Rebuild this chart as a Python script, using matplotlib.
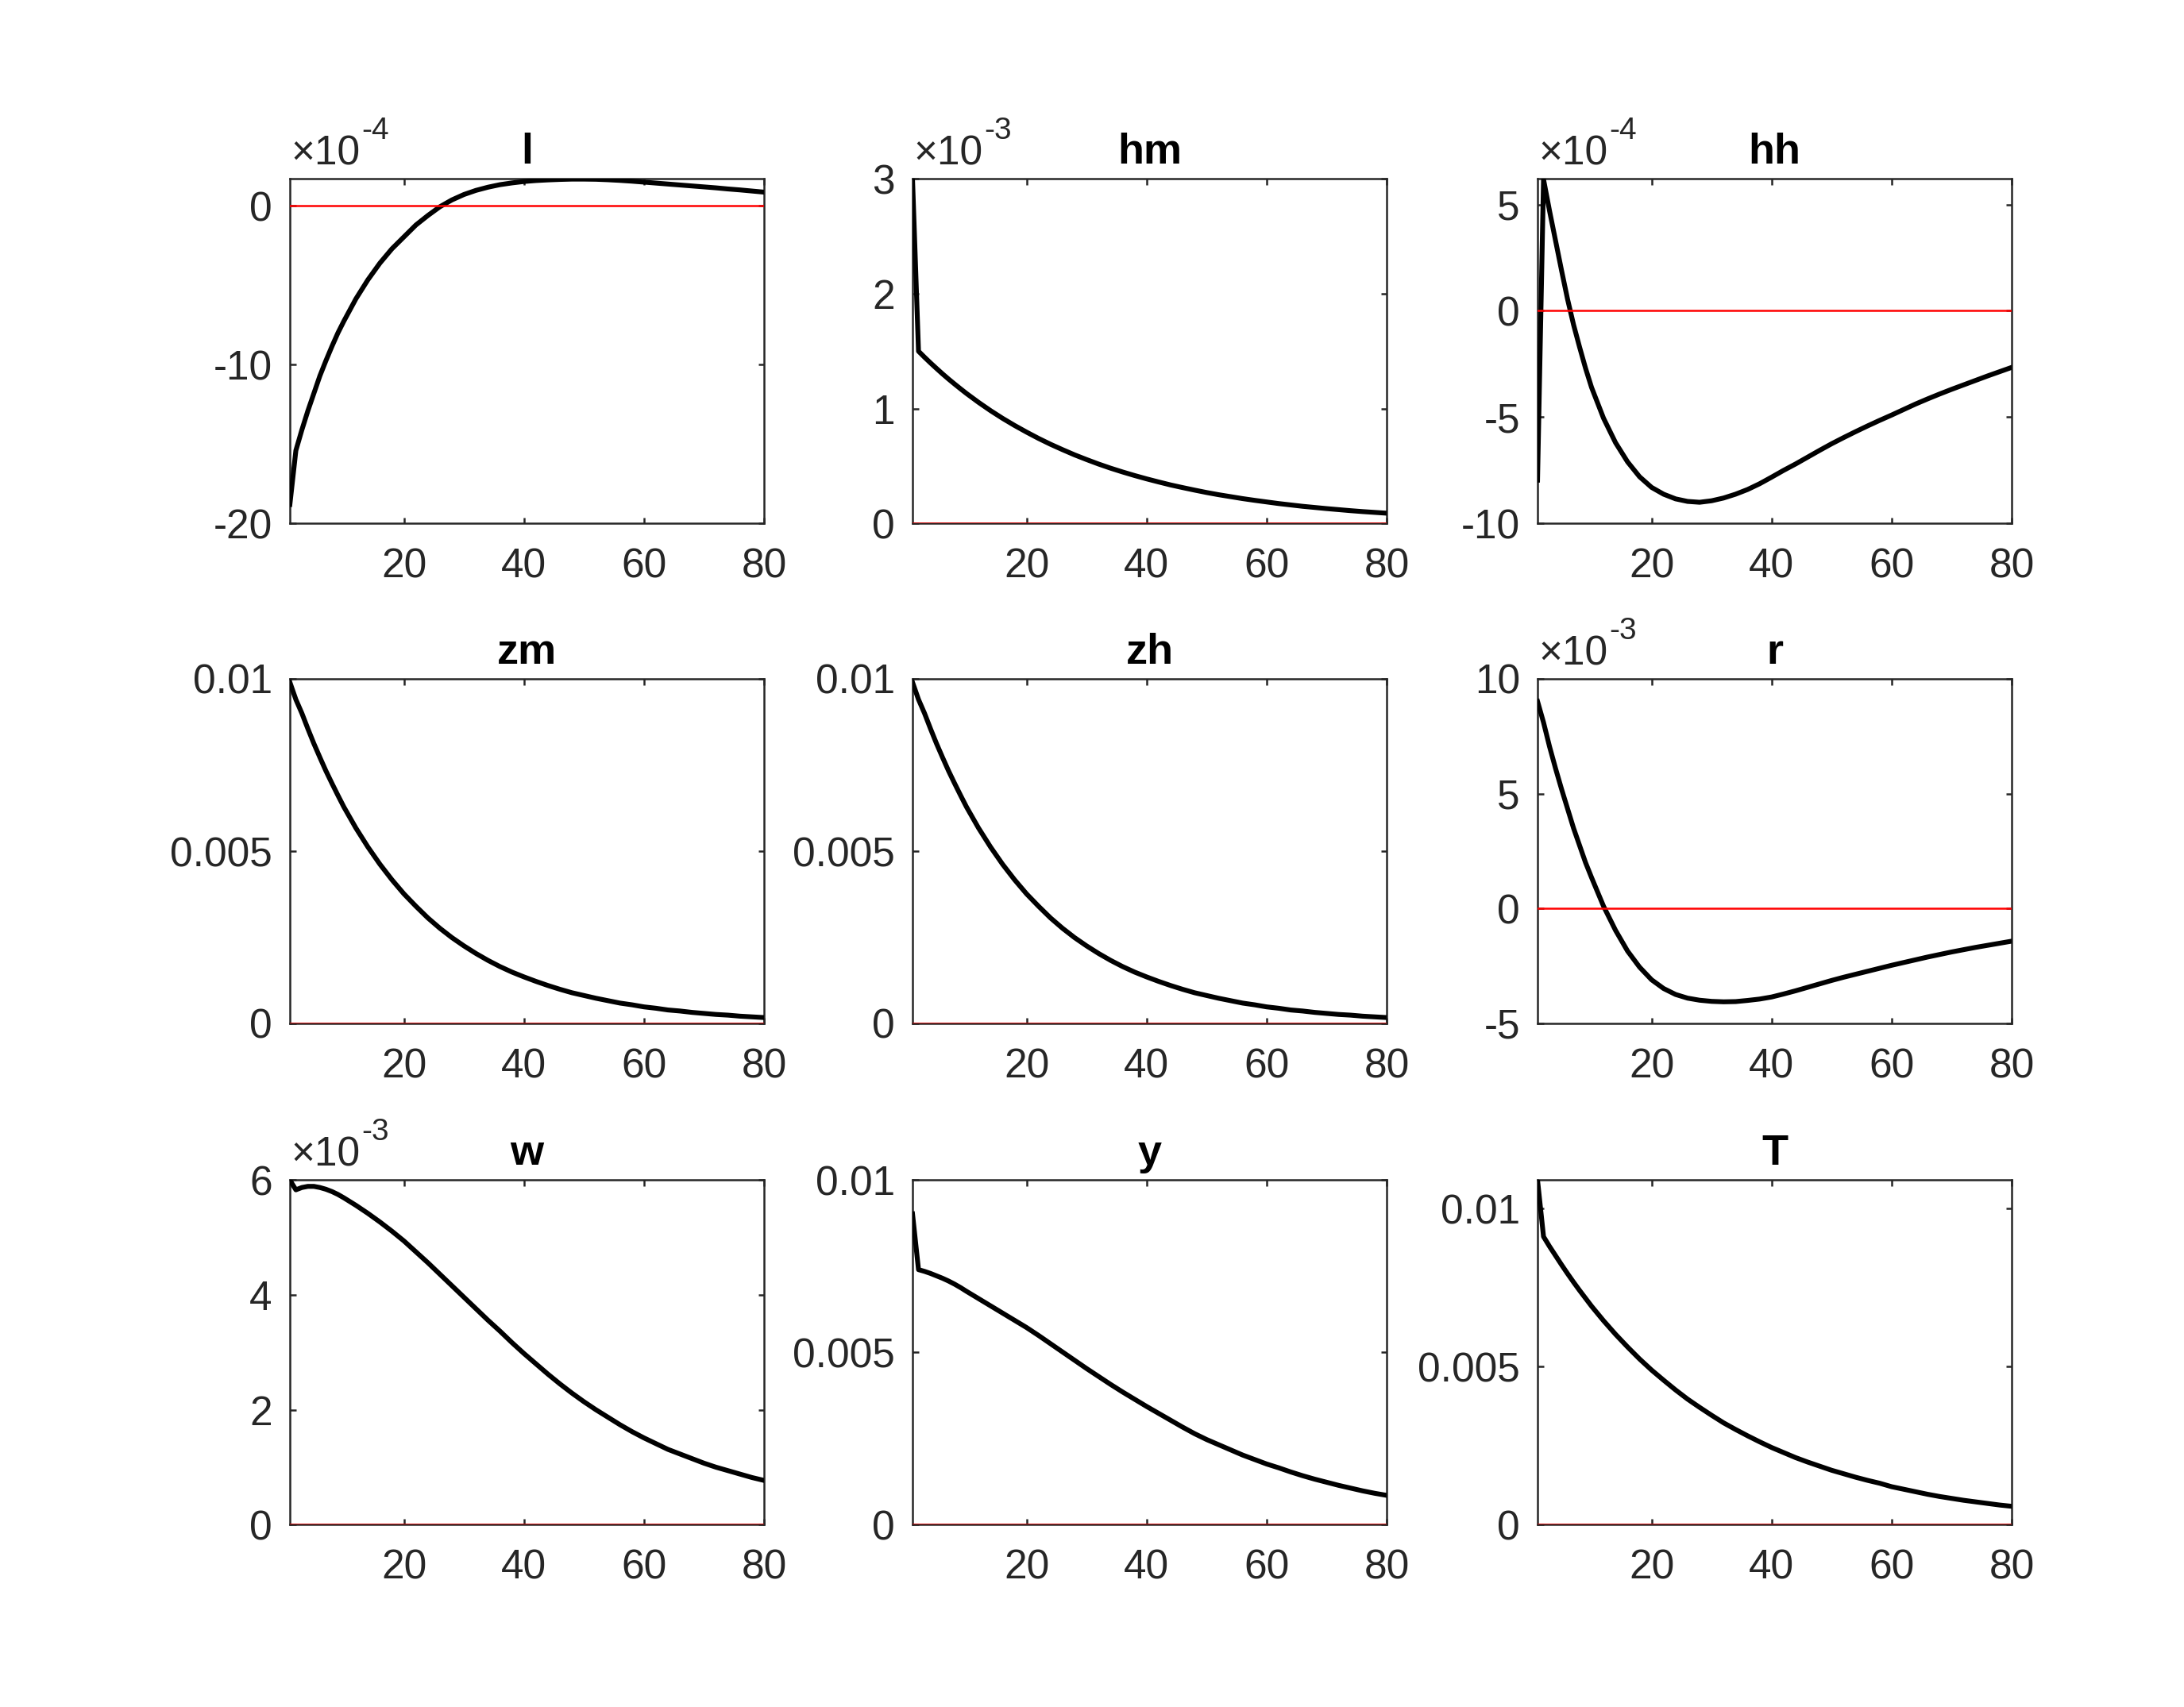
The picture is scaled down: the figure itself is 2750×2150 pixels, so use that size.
import matplotlib
matplotlib.use("Agg")
import matplotlib.pyplot as plt
import numpy as np

plt.rcParams['font.family'] = ['Liberation Sans', 'DejaVu Sans']

periods = [1, 2, 3, 4, 5, 6, 7, 8, 9, 10, 12, 14, 16, 18, 20, 22, 24, 26, 28, 30, 32, 34,
           36, 38, 40, 42, 44, 46, 48, 50, 52, 54, 56, 58, 60, 62, 64, 66, 68, 70, 72, 74,
           76, 78, 80]

titles = ['l', 'hm', 'hh', 'zm', 'zh', 'r', 'w', 'y', 'T']

# values in displayed units (multiply by 10**exponent)
l_vals = [-18.8, -15.4, -14.1, -12.9, -11.8, -10.7, -9.75, -8.85, -8.0, -7.25, -5.85,
          -4.65, -3.6, -2.7, -1.95, -1.2, -0.6, -0.05, 0.38, 0.72, 0.98, 1.18, 1.34,
          1.45, 1.54, 1.6, 1.64, 1.67, 1.69, 1.69, 1.68, 1.65, 1.61, 1.56, 1.5, 1.44,
          1.38, 1.32, 1.26, 1.2, 1.14, 1.07, 1.01, 0.94, 0.87]
hm_vals = [3.0, 1.5, 1.448, 1.398, 1.35, 1.303, 1.258, 1.215, 1.173, 1.132, 1.055, 0.983,
           0.916, 0.854, 0.796, 0.741, 0.69, 0.643, 0.598, 0.557, 0.518, 0.482, 0.449,
           0.418, 0.389, 0.362, 0.336, 0.313, 0.291, 0.27, 0.251, 0.234, 0.217, 0.202,
           0.188, 0.174, 0.162, 0.15, 0.14, 0.13, 0.121, 0.112, 0.104, 0.097, 0.09]
hh_vals = [-7.96, 6.18, 4.7, 3.3, 1.9, 0.55, -0.65, -1.7, -2.7, -3.6, -5.05, -6.2, -7.1,
           -7.8, -8.3, -8.62, -8.84, -8.96, -9.0, -8.93, -8.8, -8.62, -8.4, -8.13, -7.82,
           -7.5, -7.2, -6.88, -6.56, -6.25, -5.96, -5.68, -5.41, -5.15, -4.9, -4.64,
           -4.38, -4.14, -3.91, -3.69, -3.48, -3.27, -3.06, -2.86, -2.66]
zm_vals = [0.0099, 0.0094, 0.009, 0.00855, 0.00812, 0.00772, 0.00733, 0.00697, 0.00662,
           0.00628, 0.00567, 0.00512, 0.00462, 0.00417, 0.00376, 0.0034, 0.00306,
           0.00276, 0.00249, 0.00225, 0.00203, 0.00183, 0.00165, 0.00149, 0.00135,
           0.00122, 0.0011, 0.00099, 0.00089, 0.00081, 0.00073, 0.00066, 0.00059,
           0.00054, 0.00048, 0.00044, 0.00039, 0.00036, 0.00032, 0.00029, 0.00026,
           0.00024, 0.00021, 0.00019, 0.00017]
zh_vals = [0.0099, 0.0094, 0.009, 0.00855, 0.00812, 0.00772, 0.00733, 0.00697, 0.00662,
           0.00628, 0.00567, 0.00512, 0.00462, 0.00417, 0.00376, 0.0034, 0.00306,
           0.00276, 0.00249, 0.00225, 0.00203, 0.00183, 0.00165, 0.00149, 0.00135,
           0.00122, 0.0011, 0.00099, 0.00089, 0.00081, 0.00073, 0.00066, 0.00059,
           0.00054, 0.00048, 0.00044, 0.00039, 0.00036, 0.00032, 0.00029, 0.00026,
           0.00024, 0.00021, 0.00019, 0.00017]
r_vals = [9.02, 8.1, 7.05, 6.1, 5.2, 4.35, 3.5, 2.75, 2.0, 1.35, 0.1, -0.95, -1.85, -2.55,
          -3.1, -3.48, -3.74, -3.9, -3.99, -4.04, -4.06, -4.05, -4.0, -3.94, -3.85,
          -3.72, -3.58, -3.43, -3.28, -3.13, -2.99, -2.86, -2.73, -2.6, -2.47, -2.35,
          -2.23, -2.11, -2.0, -1.89, -1.79, -1.69, -1.6, -1.51, -1.42]
w_vals = [6.0, 5.83, 5.87, 5.89, 5.89, 5.87, 5.84, 5.8, 5.75, 5.69, 5.56, 5.42, 5.27,
          5.11, 4.94, 4.75, 4.56, 4.36, 4.16, 3.96, 3.76, 3.56, 3.37, 3.17, 2.98, 2.8,
          2.62, 2.45, 2.29, 2.14, 2.0, 1.87, 1.74, 1.62, 1.51, 1.41, 1.31, 1.23, 1.15,
          1.07, 1.0, 0.94, 0.88, 0.82, 0.77]
y_vals = [0.00902, 0.0074, 0.00735, 0.00729, 0.00722, 0.00715, 0.00707, 0.00698,
          0.00688, 0.00677, 0.00656, 0.00635, 0.00614, 0.00593, 0.00572, 0.00549,
          0.00525, 0.00501, 0.00477, 0.00453, 0.0043, 0.00407, 0.00385, 0.00364,
          0.00343, 0.00323, 0.00303, 0.00283, 0.00264, 0.00247, 0.00232, 0.00217,
          0.00202, 0.00189, 0.00176, 0.00165, 0.00153, 0.00142, 0.00132, 0.00123,
          0.00114, 0.00106, 0.00098, 0.00091, 0.00085]
T_vals = [0.0109, 0.00911, 0.0088, 0.00851, 0.00822, 0.00794, 0.00767, 0.00741, 0.00716,
          0.00691, 0.00645, 0.00602, 0.00562, 0.00524, 0.00489, 0.00457, 0.00426,
          0.00397, 0.00371, 0.00346, 0.00322, 0.00301, 0.00281, 0.00262, 0.00244,
          0.00228, 0.00212, 0.00198, 0.00185, 0.00172, 0.00161, 0.0015, 0.0014,
          0.00131, 0.0012, 0.00112, 0.00104, 0.00096, 0.00089, 0.00083, 0.00077,
          0.00072, 0.00067, 0.00062, 0.00058]

exponents = [-4, -3, -4, 0, 0, -3, -3, 0, 0]
series = [l_vals, hm_vals, hh_vals, zm_vals, zh_vals, r_vals, w_vals, y_vals, T_vals]
ylims = [(-20, 1.70), (0, 3), (-10, 6.2), (0, 0.01), (0, 0.01), (-5, 10), (0, 6),
         (0, 0.01), (0, 0.0109)]
yticks = [[-20, -10, 0], [0, 1, 2, 3], [-10, -5, 0, 5], [0, 0.005, 0.01],
          [0, 0.005, 0.01], [-5, 0, 5, 10], [0, 2, 4, 6], [0, 0.005, 0.01],
          [0, 0.005, 0.01]]
ytick_labels = [['-20', '-10', '0'], ['0', '1', '2', '3'], ['-10', '-5', '0', '5'],
                ['0', '0.005', '0.01'], ['0', '0.005', '0.01'], ['-5', '0', '5', '10'],
                ['0', '2', '4', '6'], ['0', '0.005', '0.01'], ['0', '0.005', '0.01']]
xticks = [20, 40, 60, 80]

fig = plt.figure(figsize=(13.75, 10.75), dpi=200)
W, H = 2750.0, 2150.0
col_left = [365 / W, 1149 / W, 1936 / W]
ax_w = 597 / W
row_bottom = [1 - 659.4 / H, 1 - 1289 / H, 1 - 1920.3 / H]
ax_h = 434 / H

gray = '#262626'
tick_fs = 18.5
for i in range(9):
    r, c = divmod(i, 3)
    ax = fig.add_axes([col_left[c], row_bottom[r], ax_w, ax_h])
    scale = 10.0 ** exponents[i]
    vals = np.array(series[i]) * scale
    ax.plot(periods, vals, color='black', lw=2.2, zorder=3)
    ax.plot([periods[0], periods[-1]], [0, 0], color='red', lw=0.9, zorder=4)
    ax.set_xlim(periods[0], periods[-1])
    lo, hi = ylims[i]
    ax.set_ylim(lo * scale, hi * scale)
    ax.set_yticks([t * scale for t in yticks[i]])
    ax.set_yticklabels(ytick_labels[i])
    ax.set_xticks(xticks)
    ax.set_xticklabels([str(t) for t in xticks])
    ax.tick_params(axis='both', direction='in', top=True, right=True, length=2.7,
                   width=0.9, colors=gray, labelsize=tick_fs)
    ax.tick_params(axis='x', pad=11)
    ax.tick_params(axis='y', pad=8)
    for sp in ax.spines.values():
        sp.set_color(gray)
        sp.set_linewidth(0.9)
    ax.set_title(titles[i], fontsize=19.5, fontweight='bold', pad=7)
    if exponents[i] != 0:
        base = ax.annotate('\u00d710', xy=(0, 1), xycoords='axes fraction',
                           xytext=(0.5, 2.5), textcoords='offset points', ha='left',
                           va='bottom', fontsize=tick_fs, color=gray)
        ax.annotate('%d' % exponents[i], xy=(1, 1), xycoords=base,
                    xytext=(0.5, -5), textcoords='offset points', ha='left',
                    va='bottom', fontsize=14, color=gray)

fig.savefig('out.png', dpi=200, facecolor='white')
